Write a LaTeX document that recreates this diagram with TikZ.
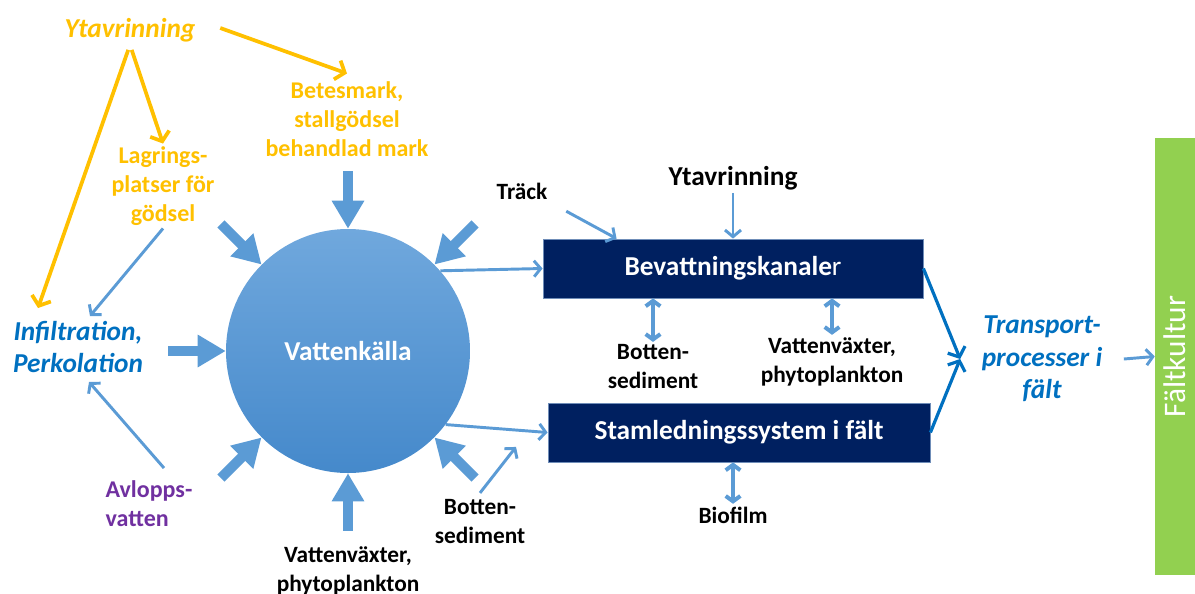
\documentclass[tikz,border=0pt]{standalone}
\usepackage{fontspec}
\setmainfont{Carlito}
\usetikzlibrary{arrows.meta,calc}
\definecolor{gul}{HTML}{FFC000}
\definecolor{blatext}{HTML}{0070C0}
\definecolor{ljusbla}{HTML}{5B9BD5}
\definecolor{marin}{HTML}{002060}
\definecolor{lila}{HTML}{7030A0}
\definecolor{gron}{HTML}{92D050}
\definecolor{kanter}{HTML}{6F8DB8}
\definecolor{ktopp}{HTML}{70A8DD}
\definecolor{kbotten}{HTML}{4589CB}
\newcommand{\stor}{\fontsize{20.5}{24.5}\selectfont}
\newcommand{\mellan}{\fontsize{18}{21.8}\selectfont}
\newcommand{\liten}{\fontsize{17.5}{21.75}\selectfont}

\begin{document}
\begin{tikzpicture}[x=0.75pt,y=-0.75pt,
  lbl/.style={align=center,inner sep=2pt,font=\bfseries\liten},
  gullbl/.style={lbl,text=gul,font=\bfseries\mellan},
  blalbl/.style={lbl,text=blatext,font=\bfseries\itshape\stor},
  boxlbl/.style={draw=kanter,line width=0.6pt,fill=marin,text=white,font=\bfseries\stor,minimum width=285pt,minimum height=44.25pt},
  fet/.style={ljusbla,line width=7.5pt,-{Triangle[width=23pt,length=21pt]}},
  tunn/.style={ljusbla,line width=2.2pt,-{Straight Barb[length=5pt,width=12pt]}},
  dubbel/.style={ljusbla,line width=3pt,{Straight Barb[length=4pt,width=11pt]}-{Straight Barb[length=4pt,width=11pt]}},
  gulpil/.style={gul,line width=2.8pt,-{Straight Barb[length=6pt,width=15pt]}},
  blapil/.style={blatext,line width=2.4pt,-{Straight Barb[length=6pt,width=14pt]}}]
\useasboundingbox (0,0) rectangle (1195,593);

% vattenkallan i mitten
\node[circle,minimum size=183pt,inner sep=0pt,top color=ktopp,bottom color=kbotten,text=white,font=\bfseries\stor] (vk) at (348,351) {Vattenkälla};

% kallor runt om
\node[gullbl,font=\bfseries\itshape\stor] (yt) at (130,30) {Ytavrinning};
\node[gullbl] (bet) at (347,119) {Betesmark,\\stallgödsel\\behandlad mark};
\node[gullbl] (lag) at (163,186) {Lagrings-\\platser för\\gödsel};
\node[blalbl] (inf) at (78,347) {Infiltration,\\Perkolation};
\node[lbl,align=left,text=lila,font=\bfseries\mellan] (avl) at (149,504) {Avlopps-\\vatten};
\node[lbl] (vv) at (348,571) {Vattenväxter,\\phytoplankton};
\node[lbl] (bs) at (480,522) {Botten-\\sediment};

% kanaler och ledningar
\node[boxlbl] (bk) at (733,268.5) {Bevattningskanale{\mdseries r}};
\node[boxlbl,minimum width=286.5pt] (sk) at (739,432.5) {Stamledningssystem i fält};
\node[lbl] (trk) at (522,191) {Träck};
\node[lbl,font=\bfseries\stor] (ytb) at (733,178) {Ytavrinning};
\node[lbl] (bs2) at (653,367) {Botten-\\sediment};
\node[lbl] (vv2) at (832,362) {Vattenväxter,\\phytoplankton};
\node[lbl] (bio) at (733,515) {Biofilm};

% falt
\node[blalbl,inner xsep=16pt] (tp) at (1042,359) {Transport-\\processer i\\fält};
\node[fill=gron,rotate=90,minimum width=327.75pt,minimum height=30pt,text=white,font=\fontsize{23.5}{28}\selectfont] (fk) at (1175,356.5) {Fältkultur};

% feta pilar in mot kallan
\foreach \a in {45,90,135,180,225,270,315}
  \draw[fet] ($(vk.center)!1.47!(vk.\a)$) -- (vk.\a);

% gula pilar
\draw[gulpil,shorten <=4pt] (yt.south) -- (lag.north);
\draw[gulpil,shorten <=4pt] (yt.south) -- ($(inf.north)+(-40,-10)$);
\draw[gulpil] ($(yt.east)+(22,-2)$) -- ($(bet.north)+(0,-5)$);

% tunna pilar
\draw[tunn] (lag.south) -- ($(inf.north)+(12,-2)$);
\draw[tunn] ($(avl.north)+(15,-10)$) -- ($(inf.south)+(11,6)$);
\draw[tunn] (vk.41) -- (bk.west);
\draw[tunn] (vk.-37) -- (sk.west);
\draw[tunn] ($(bs.north)+(0,-4)$) -- ($(bs.north)+(36,-50)$);
\draw[tunn] ($(trk.south east)+(16,9)$) -- ($(bk.north west)+(74,0)$);
\draw[tunn] (ytb.south) -- (bk.north);
\draw[dubbel] (bs2.north |- bk.south) -- (bs2.north);
\draw[dubbel] (vv2.north |- bk.south) -- (vv2.north);
\draw[dubbel] (bio.north |- sk.south) -- (bio.north);

% mot falt
\draw[blapil] (bk.east) -- (tp.west);
\draw[blapil] (sk.east) -- (tp.west);
\draw[tunn] (tp.east) -- (fk.north);
\end{tikzpicture}
\end{document}
